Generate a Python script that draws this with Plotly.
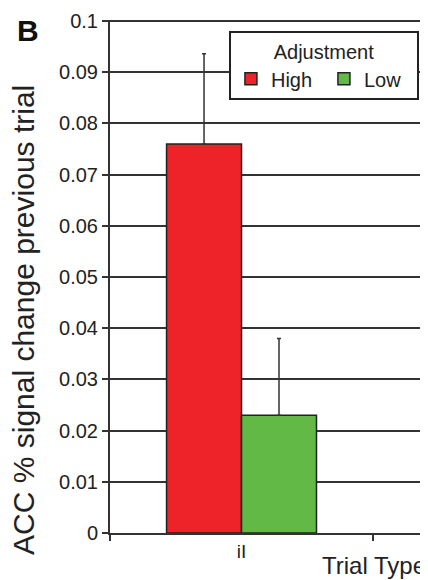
import plotly.graph_objects as go

categories = ["iI"]
high_values = [0.076]
high_err = [0.0176]
low_values = [0.023]
low_err = [0.015]
ytick_vals = [0, 0.01, 0.02, 0.03, 0.04, 0.05, 0.06, 0.07, 0.08, 0.09, 0.1]
ytick_text = ["0", "0.01", "0.02", "0.03", "0.04", "0.05", "0.06", "0.07", "0.08", "0.09", "0.1"]

FONT = "Liberation Sans, Arial, sans-serif"

fig = go.Figure()
fig.add_trace(go.Bar(
    name="High", x=categories, y=high_values,
    marker=dict(color="#ee2229", line=dict(color="#222", width=1.5)),
    error_y=dict(type="data", array=high_err, symmetric=False, arrayminus=[0],
                 color="#333", thickness=1.5, width=2),
))
fig.add_trace(go.Bar(
    name="Low", x=categories, y=low_values,
    marker=dict(color="#62b946", line=dict(color="#222", width=1.5)),
    error_y=dict(type="data", array=low_err, symmetric=False, arrayminus=[0],
                 color="#333", thickness=1.5, width=2),
))

fig.update_layout(
    width=420, height=572,
    margin=dict(l=102, r=0, t=12, b=47),
    paper_bgcolor="white", plot_bgcolor="white",
    barmode="group", bargap=0.43, bargroupgap=0,
    font=dict(family=FONT, color="#222", size=20),
    showlegend=True,
    legend=dict(
        orientation="h",
        x=0.374, y=0.978, xanchor="left", yanchor="top",
        title=dict(text="Adjustment", side="top center", font=dict(size=20)),
        bordercolor="#222", borderwidth=2, bgcolor="white",
        font=dict(size=20),
        itemwidth=30,
        entrywidth=48, entrywidthmode="pixels",
    ),
)
fig.update_xaxes(
    type="category", range=[-0.5, 0.709],
    tickson="boundaries", ticks="outside", ticklen=6, tickcolor="#333", tickwidth=1.5,
    showline=True, linecolor="#333", linewidth=2,
    showgrid=False, tickfont=dict(size=19),
)
fig.update_yaxes(
    range=[0, 0.1002], tickvals=ytick_vals, ticktext=ytick_text,
    ticks="outside", ticklen=6, tickcolor="#333", tickwidth=1.5,
    showline=True, linecolor="#333", linewidth=2,
    showgrid=True, gridcolor="#333", gridwidth=1.7,
    zeroline=False, tickfont=dict(size=20),
)

fig.add_annotation(text="ACC % signal change previous trial", textangle=-90,
                   xref="paper", yref="paper", x=-0.274, y=0.415,
                   xanchor="center", yanchor="middle", showarrow=False,
                   font=dict(size=30, family=FONT, color="#222"))
fig.add_annotation(text="<b>B</b>", xref="paper", yref="paper",
                   x=-0.258, y=0.979, xanchor="center", yanchor="middle",
                   showarrow=False, font=dict(size=30, family=FONT, color="#111"))
fig.add_annotation(text="Trial Type", xref="paper", yref="paper",
                   x=1.0, y=-0.064, xanchor="right", yanchor="middle",
                   showarrow=False, font=dict(size=24, family=FONT, color="#222"))

fig.write_html("out.html")
